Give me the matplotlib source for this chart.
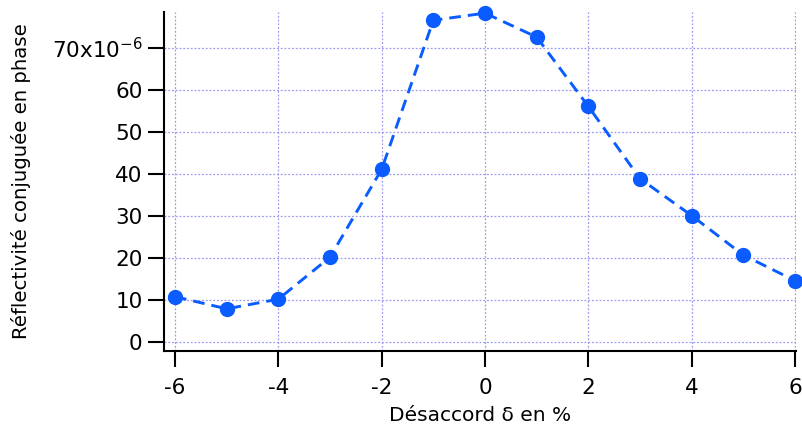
import matplotlib
matplotlib.use("Agg")
import matplotlib.pyplot as plt

# data (reflectivity in units of 1e-6)
detuning = [-6, -5, -4, -3, -2, -1, 0, 1, 2, 3, 4, 5, 6]
reflectivity = [10.8, 7.9, 10.2, 20.2, 41.1, 76.6, 78.3, 72.6, 56.1, 38.9, 30.1, 20.7, 14.6]
xticks = [-6, -4, -2, 0, 2, 4, 6]
yticks = [0, 10, 20, 30, 40, 50, 60, 70]
ytick_labels = ['0', '10', '20', '30', '40', '50', '60', r'70x10$^{\mathregular{-6}}$']

plt.rcParams['font.family'] = ['DejaVu Sans']
fig = plt.figure(figsize=(8.02, 4.32), dpi=100)
ax = fig.add_axes([164/802, 1 - 351/432, (796-164)/802, (351-12)/432])

color = '#0a5cff'
ax.plot(detuning, reflectivity, linestyle=(0, (4, 2.4)), color=color, lw=2.1,
        marker='o', markersize=10, clip_on=False, zorder=3)

ax.set_xlim(-6.213, 6.02)
ax.set_ylim(-2.14, 78.57)
ax.set_xticks(xticks)
ax.set_xticklabels([str(t) for t in xticks])
ax.set_yticks(yticks)
ax.set_yticklabels(ytick_labels)

ax.grid(True, color='#9a9af2', linestyle=(0, (1.5, 1.5)), linewidth=0.9)
ax.set_axisbelow(True)

for s in ['top', 'right']:
    ax.spines[s].set_visible(False)
for s in ['left', 'bottom']:
    ax.spines[s].set_linewidth(1.5)
ax.tick_params(axis='both', direction='out', length=11.5, width=1.5, labelsize=15.5, pad=4)
ax.tick_params(axis='x', pad=8)

ax.set_xlabel('Désaccord δ en %', fontsize=14.5, labelpad=6)
ax.set_ylabel('Réflectivité conjuguée en phase', fontsize=14.2, labelpad=15)

fig.savefig('out.png', dpi=100)
